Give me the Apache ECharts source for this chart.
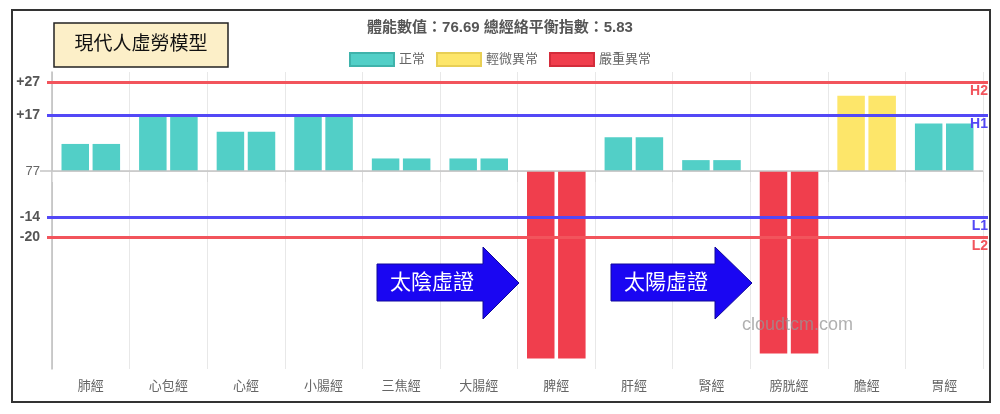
<!DOCTYPE html>
<html>
<head>
<meta charset="utf-8">
<script src="https://cdn.jsdelivr.net/npm/echarts@6/dist/echarts.min.js"></script>
<style>html,body{margin:0;padding:0;background:#fff}#c{width:1000px;height:414px}</style>
</head>
<body>
<div id="c"></div>
<script>
// ---- data ----
const meridians = ['肺經','心包經','心經','小腸經','三焦經','大腸經','脾經','肝經','腎經','膀胱經','膽經','胃經'];
const deviations = [8.2, 16.4, 11.9, 16.4, 3.8, 3.8, -56.8, 10.2, 3.3, -55.3, 22.8, 14.4];
const statusLevels = ['正常','正常','正常','正常','正常','正常','嚴重異常','正常','正常','嚴重異常','輕微異常','正常'];
const legendNames = ['正常','輕微異常','嚴重異常'];
const yTickValues = [27, 17, 0, -14, -20];
const yTickLabels = ['+27', '+17', '77', '-14', '-20'];
const thresholdNames = ['H2', 'H1', 'L1', 'L2'];
const thresholdValues = [27, 17, -14, -20];
const titleText = '體能數值：76.69 總經絡平衡指數：5.83';

// ---- styles ----
const statusColors = {'正常':'#52cfc7','輕微異常':'#fde66a','嚴重異常':'#f03e4d'};
const statusBorders = {'正常':'#3fb3ab','輕微異常':'#e8cf55','嚴重異常':'#d42c3b'};
const RED = '#f2545c', BLUE = '#5348f6';
const thresholdColors = [RED, BLUE, BLUE, RED];
const CJK = '"Liberation Sans", "Noto Sans CJK TC", sans-serif';

const chart = echarts.init(document.getElementById('c'), null, {renderer:'canvas'});

function barColor(p){ return statusColors[statusLevels[p.dataIndex]]; }

const markLineData = thresholdValues.map((v,i)=>({
  yAxis: v, name: thresholdNames[i],
  lineStyle:{color: thresholdColors[i], width: 3, type:'solid'},
  label:{color: thresholdColors[i]}
}));
markLineData.push({yAxis:0, name:'', lineStyle:{color:'#c4c4c4', width:1.5, type:'solid'}, label:{show:false}});

function tickAxis(vals, color, pos, len){
  return {type:'value', min:-60, max:30, position:pos, offset:0,
    axisLine:{show:false}, splitLine:{show:false},
    axisLabel:{show:false},
    axisTick:{show:true, length:len, customValues:vals, lineStyle:{color:color, width:3}}};
}

const option = {
  backgroundColor:'#fff',
  animation:false,
  title:{text:titleText, left:'center', top:15,
    textStyle:{fontSize:15, fontWeight:'bold', color:'#555', fontFamily:CJK}},
  legend:{top:47, left:'center', itemWidth:44, itemHeight:13, itemGap:11, icon:'rect',
    data:legendNames,
    textStyle:{fontSize:13, color:'#666', fontFamily:CJK}},
  grid:{left:52, right:17, top:72, bottom:45, containLabel:false},
  xAxis:{type:'category', data:meridians, boundaryGap:true,
    axisLine:{show:true, lineStyle:{color:'#dedede', width:1}},
    axisTick:{show:true, interval:0, length:11, lineStyle:{color:'#dedede'}},
    splitLine:{show:true, interval:0, lineStyle:{color:'#e8e8e8', width:1}},
    axisLabel:{interval:0, margin:11, fontSize:13, color:'#666', fontFamily:CJK}},
  yAxis:[
    {type:'value', min:-60, max:30, position:'left', offset:0,
     splitLine:{show:false},
     axisLine:{show:true, lineStyle:{color:'#bdbdbd', width:1.5}},
     axisTick:{show:true, customValues:[0], length:12, lineStyle:{color:'#c4c4c4', width:1.5}},
     axisLabel:{customValues:yTickValues, margin:12,
       formatter:function(v){ const i = yTickValues.indexOf(v); const t = yTickLabels[i]; return v===0 ? '{z|'+t+'}' : '{b|'+t+'}'; },
       rich:{b:{fontSize:14, fontWeight:'bold', color:'#555', fontFamily:CJK},
             z:{fontSize:13, color:'#666', fontFamily:CJK}}}},
    tickAxis([27,-20], RED, 'left', 5),
    tickAxis([17,-14], BLUE, 'left', 5),
    tickAxis([27,-20], RED, 'right', 5),
    tickAxis([17,-14], BLUE, 'right', 5)
  ],
  series:[
    {type:'bar', name:'A', data:deviations, barWidth:27.5, barGap:'13%', yAxisIndex:0,
     itemStyle:{color:barColor}, z:2,
     markLine:{silent:true, symbol:['none','none'], z:5,
       label:{show:true, position:'insideEndBottom', formatter:'{b}', fontSize:14, fontWeight:'bold',
              fontFamily:CJK, distance:[-5, 2]},
       data:markLineData}},
    {type:'bar', name:'B', data:deviations, barWidth:27.5, barGap:'13%', yAxisIndex:0,
     itemStyle:{color:barColor}, z:2},
    ...legendNames.map(n=>({type:'scatter', name:n, data:[],
      itemStyle:{color:statusColors[n], borderColor:statusBorders[n], borderWidth:1, opacity:1}}))
  ],
  graphic:[
    {type:'rect', shape:{x:12, y:10, width:978, height:392}, style:{fill:'none', stroke:'#333', lineWidth:2}, z:100},
    {type:'rect', shape:{x:54, y:23, width:174, height:44}, style:{fill:'#fcefc8', stroke:'#222', lineWidth:1.5}, z:100},
    {type:'text', x:141, y:45, style:{text:'現代人虛勞模型', fontSize:19, fill:'#111', align:'center', verticalAlign:'middle', fontFamily:CJK}, z:101},
    {type:'polygon', shape:{points:[[377,264],[483,264],[483,247],[519,283],[483,319],[483,301],[377,301]]},
     style:{fill:'#1a06f2', stroke:'#10089a', lineWidth:1}, z:100},
    {type:'text', x:432, y:283, style:{text:'太陰虛證', fontSize:21, fill:'#fff', align:'center', verticalAlign:'middle', fontFamily:CJK}, z:101},
    {type:'polygon', shape:{points:[[611,264],[715,264],[715,247],[752,283],[715,319],[715,301],[611,301]]},
     style:{fill:'#1a06f2', stroke:'#10089a', lineWidth:1}, z:100},
    {type:'text', x:666, y:283, style:{text:'太陽虛證', fontSize:21, fill:'#fff', align:'center', verticalAlign:'middle', fontFamily:CJK}, z:101},
    {type:'text', x:742, y:325, style:{text:'cloudtcm.com', fontSize:18, fill:'rgba(150,150,150,0.75)', align:'left', verticalAlign:'middle', fontFamily:'"Liberation Sans", sans-serif'}, z:101}
  ]
};
chart.setOption(option);
</script>
</body>
</html>
